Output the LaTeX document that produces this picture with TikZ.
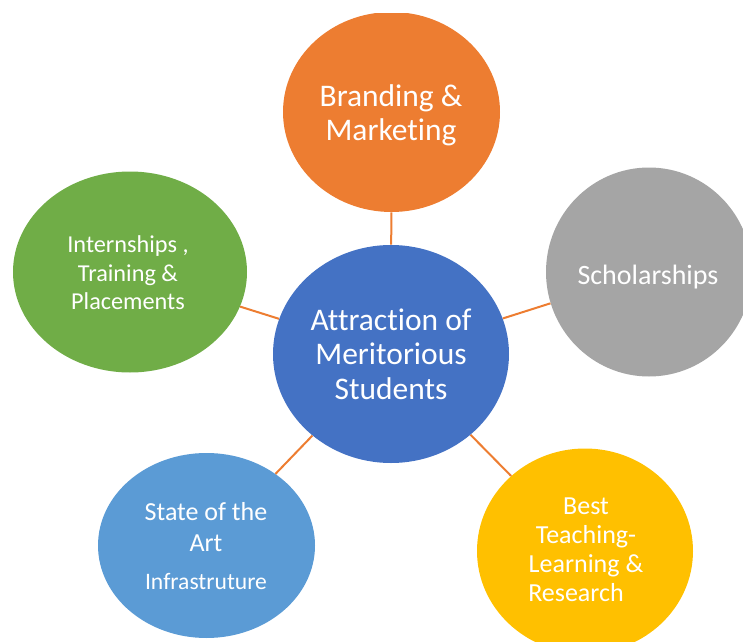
\documentclass[tikz,border=0pt]{standalone}
\usepackage{fontspec}
\setmainfont[Ligatures={NoCommon}]{Carlito}
\usetikzlibrary{shapes.geometric}

\definecolor{hubblue}{HTML}{4472C4}
\definecolor{brandorange}{HTML}{ED7D31}
\definecolor{schgray}{HTML}{A5A5A5}
\definecolor{interngreen}{HTML}{70AD47}
\definecolor{infrablue}{HTML}{5B9BD5}
\definecolor{teachgold}{HTML}{FFC000}
\definecolor{linkorange}{HTML}{ED7D31}

\begin{document}
\begin{tikzpicture}[
  x=0.75pt, y=-0.75pt,
  bubble/.style={ellipse, inner sep=0pt, draw=none},
  link/.style={draw=linkorange, line width=1.5pt},
  captxt/.style={text=white, align=center, inner sep=0pt},
]
\useasboundingbox (0,0) rectangle (743,642);
\clip (0,0) rectangle (743,642);

% central hub and the five surrounding themes
\node[bubble, fill=hubblue, minimum width=177pt, minimum height=163.5pt] (hub) at (391,354) {};
\begin{scope}
  \clip (0,14) rectangle (743,642);
  \node[bubble, fill=brandorange, minimum width=162.75pt, minimum height=150pt] (brand) at (391.5,112) {};
\end{scope}
\node[bubble, fill=interngreen, minimum width=175.5pt, minimum height=150.75pt] (intern) at (130,272) {};
\node[bubble, fill=schgray, minimum width=154.5pt, minimum height=156.75pt] (schol) at (649,272) {};
\node[bubble, fill=infrablue, minimum width=162.75pt, minimum height=138.75pt] (infra) at (206.5,545.5) {};
\node[bubble, fill=teachgold, minimum width=162pt, minimum height=153.75pt] (teach) at (585,551) {};

% spokes from the hub
\draw[link] (hub) -- (brand);
\draw[link] (hub) -- (intern);
\draw[link] (hub) -- (schol);
\draw[link] (hub) -- (infra);
\draw[link] (hub) -- (teach);

% captions
\node[captxt, font=\fontsize{23.6}{25.8}\selectfont] (hubtxt) at (391,354)
  {Attraction of\\Meritorious\\Students};
\node[captxt, font=\fontsize{23.6}{25.2}\selectfont] (brandtxt) at (391,115)
  {Branding \&\\Marketing};
\node[captxt, font=\fontsize{18.2}{21.4}\selectfont] (interntxt) at (128,273)
  {Internships ,\\Training \&\\Placements};
\node[captxt, font=\fontsize{21}{25}\selectfont] (scholtxt) at (648,277)
  {Scholarships};
\node[captxt, font=\fontsize{19.5}{23.25}\selectfont] (infratxt) at (206,546)
  {State of the\\Art\\[5pt]{\fontsize{17.7}{21}\selectfont Infrastruture}};
\node[captxt, font=\fontsize{19.5}{21.75}\selectfont] (teachtxt) at (586,549.5)
  {Best\\Teaching-\\Learning \&\\Research\hspace*{15pt}};
\end{tikzpicture}
\end{document}
